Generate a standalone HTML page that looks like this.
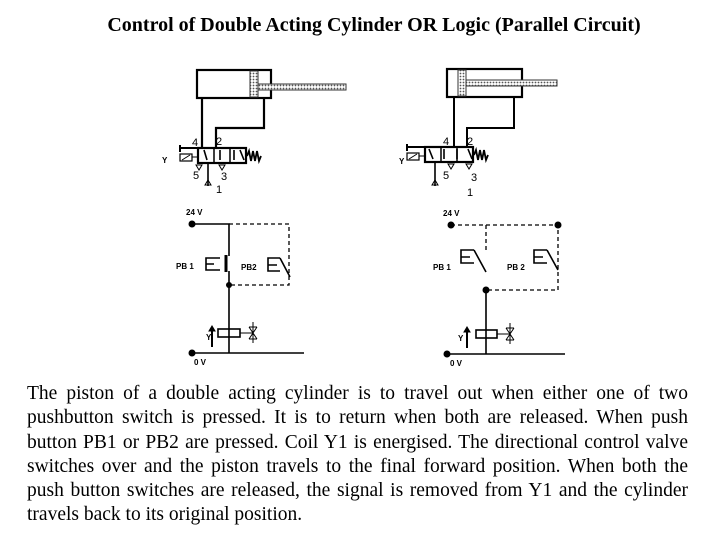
<!DOCTYPE html>
<html><head><meta charset="utf-8"><style>
body{margin:0;width:720px;height:540px;background:#fff;position:relative;overflow:hidden;font-family:"Liberation Serif",serif}
#t{position:absolute;top:14px;left:0;width:748px;text-align:center;font-weight:bold;font-size:20px;white-space:nowrap}
#p{position:absolute;top:382px;left:27px;width:661px;font-size:19.5px;line-height:24.3px}
#p div{text-align:justify;text-align-last:justify;white-space:nowrap}
#p div.l{text-align-last:left}
svg{position:absolute;left:0;top:0}
.s{font-family:"Liberation Sans",sans-serif;font-size:8px;font-weight:bold}
.n{font-family:"Liberation Sans",sans-serif;font-size:11px}
</style></head><body>
<div id="t">Control of Double Acting Cylinder OR Logic (Parallel Circuit)</div>
<svg width="720" height="380" viewBox="0 0 720 380">
<defs>
<pattern id="d" width="3" height="3" patternUnits="userSpaceOnUse"><rect width="3" height="3" fill="#fff"/><circle cx="1.5" cy="1.5" r="0.9" fill="#555"/></pattern>
<g id="valve">
<rect x="0" y="0" width="48" height="15" fill="#fff" stroke="#000" stroke-width="2.2"/>
<line x1="16" y1="0" x2="16" y2="15" stroke="#000" stroke-width="1.5"/>
<line x1="32" y1="0" x2="32" y2="15" stroke="#000" stroke-width="1.5"/>
<path d="M49 8 l2 -5 l2 10 l2 -10 l2 10 l2 -10 l2 10 l2 -5" fill="none" stroke="#000" stroke-width="1.8"/>
<line x1="-18" y1="-3" x2="-18" y2="4" stroke="#000" stroke-width="2"/><line x1="-18" y1="0" x2="0" y2="0" stroke="#000" stroke-width="2"/>
<rect x="-18" y="6" width="12" height="7" fill="none" stroke="#000" stroke-width="1.2"/><line x1="-16" y1="12" x2="-8" y2="7" stroke="#000"/>
<line x1="-6" y1="9" x2="0" y2="9" stroke="#000"/>
</g>
</defs>
<g stroke="#000" fill="none">
<rect x="197" y="70" width="74" height="28" stroke-width="2.2"/>
<rect x="250" y="71" width="8" height="26" fill="url(#d)" stroke="#333"/>
<rect x="258" y="84" width="88" height="6" fill="url(#d)" stroke="#333"/>
<path d="M202 98 V148 M264 98 V128 H216 V148" stroke-width="2.2"/>
<rect x="447" y="69" width="75" height="28" stroke-width="2.2"/>
<rect x="458" y="70" width="8" height="26" fill="url(#d)" stroke="#333"/>
<rect x="466" y="80" width="91" height="6" fill="url(#d)" stroke="#333"/>
<path d="M454 97 V147 M514 97 V128 H467 V147" stroke-width="2"/>
</g>
<use href="#valve" x="198" y="148"/>
<use href="#valve" x="425" y="147"/>
<g stroke="#000" stroke-width="1.6" fill="none">
<path d="M208 163 V186 M435 162 V186"/>
<path d="M204 150 l3 10 M220 150 v10 M234 150 v10 M240 150 l4 10"/>
<path d="M429 149 l4 10 M444 149 v10 M457 149 v10 M468 149 l4 10"/>
</g>
<g fill="none" stroke="#000"><path d="M205 185 l3 -5 l3 5z M432 185 l3 -5 l3 5z M196 165 l3 5 l3 -5z M219 165 l3 5 l3 -5z M448 164 l3 5 l3 -5z M466 164 l3 5 l3 -5z"/></g>
<g class="n">
<text x="192" y="146">4</text><text x="216" y="145">2</text><text x="193" y="179">5</text><text x="221" y="180">3</text><text x="216" y="193">1</text>
<text x="443" y="145">4</text><text x="467" y="145">2</text><text x="443" y="179">5</text><text x="471" y="181">3</text><text x="467" y="196">1</text>
</g>
<g class="s"><text x="162" y="163">Y</text><text x="399" y="164">Y</text></g>
<g stroke="#000" fill="none">
<path d="M192 224 H229 V256 M229 271 V353 M192 353 H304" stroke-width="1.6"/>
<path d="M229 224 H289 V285 H229" stroke-dasharray="4 3" stroke-width="1.3"/>
<path d="M226 255 V272" stroke-width="3"/>
<path d="M220 258 H206 V270 H220 M206 264 H214" stroke-width="1.6"/>
<path d="M280 258 H268 V271 H280 M268 265 H277 M280 258 L290 277" stroke-width="1.6"/>
<rect x="218" y="329" width="22" height="8" stroke-width="1.6"/>
<path d="M240 333 H253 M253 322 V343 M249 327 l8 12 M257 327 l-8 12 M249 327 H257 M249 339 H257" stroke-width="1"/>
<path d="M212 347 V327" stroke-width="2"/><path d="M209 331 l3 -5 l3 5z" fill="#000"/>
</g>
<circle cx="192" cy="224" r="3.5"/><circle cx="229" cy="285" r="3"/><circle cx="192" cy="353" r="3.5"/>
<g class="s"><text x="186" y="215">24 V</text><text x="176" y="269">PB 1</text><text x="241" y="270">PB2</text><text x="206" y="340">Y</text><text x="194" y="365">0 V</text></g>
<g stroke="#000" fill="none">
<path d="M451 225 H558 V290 H486 M486 225 V250" stroke-dasharray="4 3" stroke-width="1.3"/>
<path d="M486 290 V354 M447 354 H565" stroke-width="1.6"/>
<path d="M474 250 H461 V263 H474 M461 257 H470 M474 250 L486 272" stroke-width="1.6"/>
<path d="M547 250 H534 V263 H547 M534 257 H543 M547 250 L558 270" stroke-width="1.6"/>
<rect x="476" y="330" width="21" height="8" stroke-width="1.6"/>
<path d="M497 334 H510 M510 323 V344 M506 328 l8 12 M514 328 l-8 12 M506 328 H514 M506 340 H514" stroke-width="1"/>
<path d="M467 348 V328" stroke-width="2"/><path d="M464 332 l3 -5 l3 5z" fill="#000"/>
</g>
<circle cx="451" cy="225" r="3.5"/><circle cx="558" cy="225" r="3.5"/><circle cx="486" cy="290" r="3.5"/><circle cx="447" cy="354" r="3.5"/>
<g class="s"><text x="443" y="216">24 V</text><text x="433" y="270">PB 1</text><text x="507" y="270">PB 2</text><text x="458" y="341">Y</text><text x="450" y="366">0 V</text></g>
</svg>
<div id="p">
<div>The piston of a double acting cylinder is to travel out when either one of two</div>
<div>pushbutton switch is pressed. It is to return when both are released. When push</div>
<div>button PB1 or PB2 are pressed. Coil Y1 is energised. The directional control valve</div>
<div>switches over and the piston travels to the final forward position. When both the</div>
<div>push button switches are released, the signal is removed from Y1 and the cylinder</div>
<div class="l">travels back to its original position.</div>
</div>
</body></html>
